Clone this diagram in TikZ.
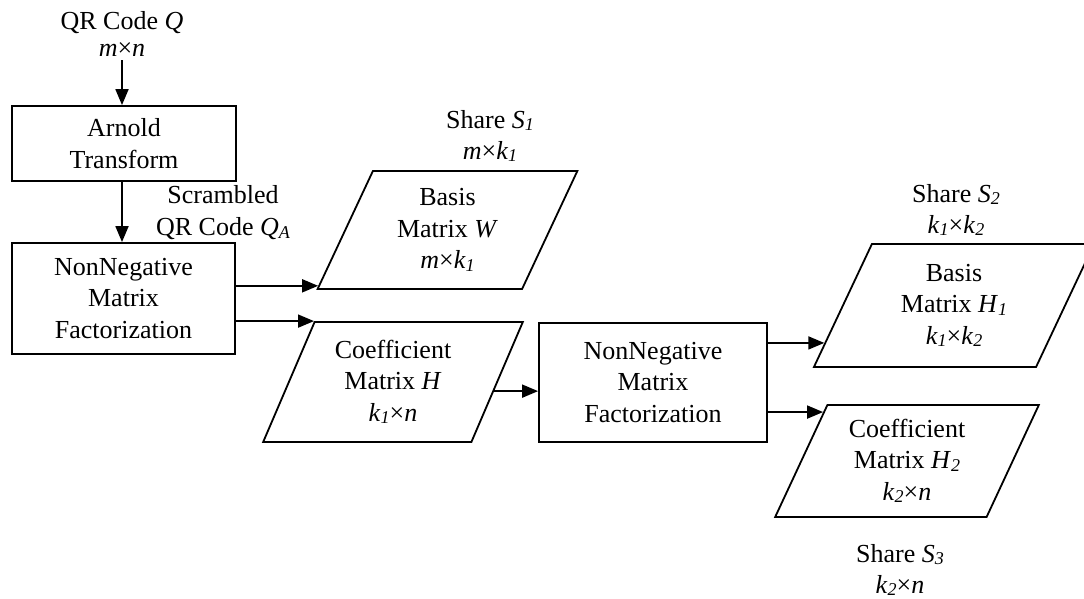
\documentclass[tikz,border=0pt]{standalone}
\usepackage{fontspec}
\setmainfont{Liberation Serif}
\usetikzlibrary{shapes.geometric,arrows.meta,calc}
\newcommand{\iv}{\textit}
% small italic index set just below the baseline
\newcommand{\ix}[1]{\raisebox{-1.2pt}{\fontsize{9}{9}\selectfont\itshape #1}}
\begin{document}
\begin{tikzpicture}[x=0.5pt,y=-0.5pt,
  every node/.style={font=\fontsize{13}{15.75}\selectfont, align=center, inner sep=2pt},
  proc/.style={draw, line width=0.9pt, rectangle},
  data/.style={draw, line width=0.9pt, trapezium, trapezium left angle=66,
    trapezium right angle=114, trapezium stretches=true},
  flow/.style={line width=0.9pt, -{Triangle[length=8pt,width=6.5pt]}},
  lbl/.style={font=\fontsize{13}{15.5}\selectfont}
]
\useasboundingbox (0,0) rectangle (1084,599);
\clip (0,0) rectangle (1084,599);

% process boxes
\node[proc, minimum width=112pt, minimum height=37.5pt] (arnold) at (124,143.5) {Arnold\\Transform};
\node[proc, minimum width=111.5pt, minimum height=55.5pt] (nmfa) at (123.5,298.5) {NonNegative\\Matrix\\Factorization};
\node[proc, minimum width=114pt, minimum height=59.5pt] (nmfb) at (653,382.5) {NonNegative\\Matrix\\Factorization};

% data (parallelogram) nodes
\node[data, minimum width=130.5pt, minimum height=59pt] (W) at (447.5,230)
  {Basis\\Matrix \iv{W}\\\iv{m}×\iv{k}\ix{1}};
\node[data, minimum width=130pt, minimum height=60pt] (H) at (393,382)
  {Coefficient\\Matrix \iv{H}\\\iv{k}\ix{1}×\iv{n}};
\node[data, minimum width=141pt, minimum height=61.5pt] (H1) at (954,305.5)
  {Basis\\Matrix \iv{H}\ix{1}\\\iv{k}\ix{1}×\iv{k}\ix{2}};
\node[data, minimum width=132pt, minimum height=56pt] (H2) at (907,461)
  {Coefficient\\Matrix \iv{H}\ix{2}\\\iv{k}\ix{2}×\iv{n}};

% labels
\node[font=\fontsize{13}{13.5}\selectfont] (qin) at (122,33.5) {QR Code \iv{Q}\\\iv{m}×\iv{n}};
\node[font=\fontsize{13}{16}\selectfont] (qa) at (223,213) {Scrambled\\QR Code \iv{Q}\ix{A}};
\node[lbl] (s1) at (490,136) {Share \iv{S}\ix{1}\\\iv{m}×\iv{k}\ix{1}};
\node[lbl] (s2) at (956,210) {Share \iv{S}\ix{2}\\\iv{k}\ix{1}×\iv{k}\ix{2}};
\node[lbl] (s3) at (900,570) {Share \iv{S}\ix{3}\\\iv{k}\ix{2}×\iv{n}};

% connectors
\draw[flow] (qin.south) -- (qin.south |- arnold.north);
\draw[flow] (qin.south |- arnold.south) -- (qin.south |- nmfa.north);

\coordinate (wIn) at ($(W.bottom left corner)!0.034!(W.top left corner)$);
\draw[flow] (nmfa.east |- wIn) -- (wIn);
\draw[flow] (nmfa.east |- H.top left corner) -- (H.top left corner);

\coordinate (hOut) at ($(H.bottom right corner)!0.425!(H.top right corner)$);
\draw[flow] (hOut) -- (nmfb.west |- hOut);

\coordinate (hOneIn) at ($(H1.bottom left corner)!0.2!(H1.top left corner)$);
\draw[flow] (nmfb.east |- hOneIn) -- (hOneIn);
\coordinate (hTwoIn) at ($(H2.top left corner)!0.07!(H2.bottom left corner)$);
\draw[flow] (nmfb.east |- hTwoIn) -- (hTwoIn);
\end{tikzpicture}
\end{document}
